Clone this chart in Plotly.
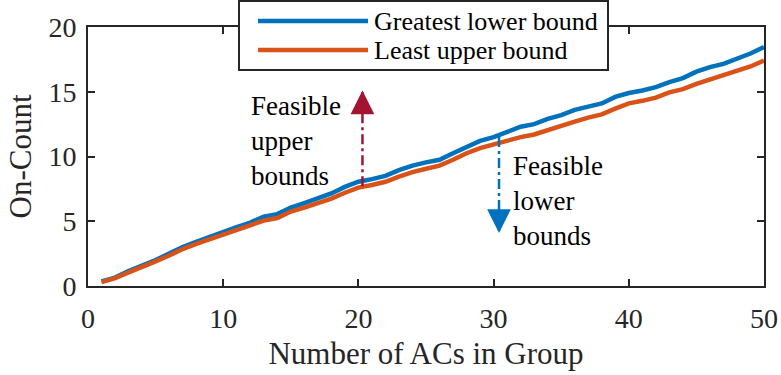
import plotly.graph_objects as go

# Group sizes and the two bound curves (on-count)
n_acs = list(range(1, 51))
greatest_lower = [0.35, 0.65, 1.15, 1.55, 2.0, 2.5, 3.0, 3.4, 3.8, 4.15,
                  4.55, 4.9, 5.35, 5.55, 6.05, 6.4, 6.8, 7.15, 7.65, 8.05,
                  8.25, 8.5, 8.95, 9.3, 9.55, 9.75, 10.25, 10.75, 11.2, 11.5,
                  11.9, 12.3, 12.5, 12.9, 13.2, 13.6, 13.85, 14.1, 14.6, 14.9,
                  15.1, 15.35, 15.75, 16.05, 16.55, 16.9, 17.15, 17.55, 17.95, 18.45]
least_upper = [0.3, 0.6, 1.05, 1.45, 1.9, 2.35, 2.85, 3.25, 3.6, 3.95,
               4.3, 4.65, 5.05, 5.25, 5.75, 6.05, 6.4, 6.75, 7.2, 7.6,
               7.8, 8.05, 8.45, 8.8, 9.05, 9.3, 9.75, 10.25, 10.65, 10.95,
               11.25, 11.5, 11.7, 12.05, 12.35, 12.7, 13.0, 13.25, 13.7, 14.1,
               14.3, 14.55, 14.95, 15.2, 15.6, 15.95, 16.25, 16.6, 16.95, 17.4]

series_names = ["Greatest lower bound", "Least upper bound"]
series_colors = ["#0072BD", "#D95319"]
arrow_red = "#A2142F"

# Feasible-region arrows: (x, y_start, y_end)
upper_arrow = (20.3, 7.7, 15.1)
lower_arrow = (30.4, 11.5, 4.1)

x_ticks = [0, 10, 20, 30, 40, 50]
y_ticks = [0, 5, 10, 15, 20]

FONT = "Liberation Serif"
INK = "#262626"

fig = go.Figure()
for name, ys, col in zip(series_names, [greatest_lower, least_upper], series_colors):
    fig.add_trace(go.Scatter(x=n_acs, y=ys, mode="lines", name=name,
                             line=dict(color=col, width=4.5), showlegend=False))

# Dash-dot arrow shafts
for (ax_x, y0, y1), col in [(upper_arrow, arrow_red), (lower_arrow, series_colors[0])]:
    fig.add_trace(go.Scatter(x=[ax_x, ax_x], y=[y0, y1], mode="lines",
                             line=dict(color=col, width=2.5, dash="10px,4px,3px,4px"),
                             showlegend=False, hoverinfo="skip"))

annotations = []
# Arrow heads
for (ax_x, y0, y1), col in [(upper_arrow, arrow_red), (lower_arrow, series_colors[0])]:
    sign = 1 if y1 > y0 else -1
    annotations.append(dict(x=ax_x, y=y1, xref="x", yref="y", ax=0, ay=16 * sign,
                            axref="pixel", ayref="pixel", showarrow=True, text="",
                            arrowhead=2, arrowsize=1.9, arrowwidth=2.5, arrowcolor=col))

annotations.append(dict(x=11.9, y=11.2, xref="x", yref="y", xanchor="left", yanchor="middle",
                        align="left", showarrow=False, text="Feasible<br>upper<br>bounds",
                        font=dict(family=FONT, size=27, color="black")))
annotations.append(dict(x=31.3, y=6.6, xref="x", yref="y", xanchor="left", yanchor="middle",
                        align="left", showarrow=False, text="Feasible<br>lower<br>bounds",
                        font=dict(family=FONT, size=27, color="black")))

# Legend box drawn in paper coordinates
PW, PH = 676.0, 259.0
def px(xp):
    return (xp - 88) / PW
def py(yp):
    return (286 - yp) / PH

shapes = [dict(type="rect", xref="paper", yref="paper", x0=px(239), x1=px(608),
               y0=py(70), y1=py(1), line=dict(color=INK, width=2), fillcolor="white",
               layer="above")]
for i, (name, col) in enumerate(zip(series_names, series_colors)):
    yy = 21 + 29 * i
    shapes.append(dict(type="line", xref="paper", yref="paper", x0=px(258), x1=px(368),
                       y0=py(yy), y1=py(yy), line=dict(color=col, width=4.5), layer="above"))
    annotations.append(dict(x=px(372), y=py(yy), xref="paper", yref="paper",
                            xanchor="left", yanchor="middle", showarrow=False, text=name,
                            font=dict(family=FONT, size=26, color="black")))

fig.update_layout(
    width=781, height=375,
    margin=dict(l=88, r=17, t=27, b=89),
    paper_bgcolor="white", plot_bgcolor="white",
    font=dict(family=FONT, color=INK),
    shapes=shapes, annotations=annotations, showlegend=False,
)
fig.update_xaxes(range=[0, 50], tickvals=x_ticks, ticks="inside", ticklen=7, tickwidth=2,
                 tickcolor=INK, showline=True, linecolor=INK, linewidth=2, mirror="ticks",
                 showgrid=False, zeroline=False, automargin=False, ticklabelstandoff=6,
                 tickfont=dict(size=28, color=INK),
                 title=dict(text="Number of ACs in Group", font=dict(size=31, color=INK), standoff=10))
fig.update_yaxes(range=[0, 20], tickvals=y_ticks, ticks="inside", ticklen=7, tickwidth=2,
                 tickcolor=INK, showline=True, linecolor=INK, linewidth=2, mirror="ticks",
                 showgrid=False, zeroline=False, automargin=False, ticklabelstandoff=4,
                 tickfont=dict(size=28, color=INK),
                 title=dict(text="On-Count", font=dict(size=31, color=INK), standoff=8))

fig.write_html("out.html")
